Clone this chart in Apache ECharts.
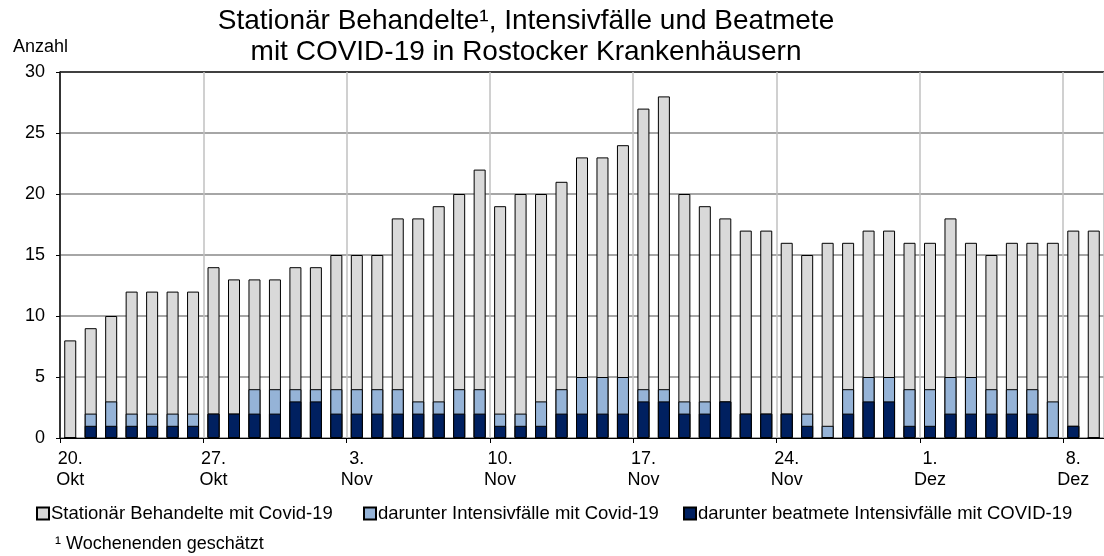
<!DOCTYPE html>
<html>
<head>
<meta charset="utf-8">
<script src="https://cdn.jsdelivr.net/npm/echarts@6/dist/echarts.min.js"></script>
<style>
  html, body { margin: 0; padding: 0; background: #fff; }
  #chart { width: 1104px; height: 556px; }
</style>
</head>
<body>
<div id="chart"></div>
<script>
// Tage 20. Okt bis 9. Dez
var tage = [
  '20.\nOkt', '21.\nOkt', '22.\nOkt', '23.\nOkt', '24.\nOkt', '25.\nOkt', '26.\nOkt',
  '27.\nOkt', '28.\nOkt', '29.\nOkt', '30.\nOkt', '31.\nOkt', '1.\nNov', '2.\nNov',
  '3.\nNov', '4.\nNov', '5.\nNov', '6.\nNov', '7.\nNov', '8.\nNov', '9.\nNov',
  '10.\nNov', '11.\nNov', '12.\nNov', '13.\nNov', '14.\nNov', '15.\nNov', '16.\nNov',
  '17.\nNov', '18.\nNov', '19.\nNov', '20.\nNov', '21.\nNov', '22.\nNov', '23.\nNov',
  '24.\nNov', '25.\nNov', '26.\nNov', '27.\nNov', '28.\nNov', '29.\nNov', '30.\nNov',
  '1.\nDez', '2.\nDez', '3.\nDez', '4.\nDez', '5.\nDez', '6.\nDez', '7.\nDez',
  '8.\nDez', '9.\nDez'
];

// Stationär Behandelte (gesamt)
var stationaer = [
  8, 9, 10, 12, 12, 12, 12,
  14, 13, 13, 13, 14, 14, 15,
  15, 15, 18, 18, 19, 20, 22,
  19, 20, 20, 21, 23, 23, 24,
  27, 28, 20, 19, 18, 17, 17,
  16, 15, 16, 16, 17, 17, 16,
  16, 18, 16, 15, 16, 16, 16,
  17, 17
];

// darunter Intensivfälle
var intensiv = [
  0, 2, 3, 2, 2, 2, 2,
  2, 2, 4, 4, 4, 4, 4,
  4, 4, 4, 3, 3, 4, 4,
  2, 2, 3, 4, 5, 5, 5,
  4, 4, 3, 3, 3, 2, 2,
  2, 2, 1, 4, 5, 5, 4,
  4, 5, 5, 4, 4, 4, 3,
  1, 0
];

// darunter beatmet
var beatmet = [
  0, 1, 1, 1, 1, 1, 1,
  2, 2, 2, 2, 3, 3, 2,
  2, 2, 2, 2, 2, 2, 2,
  1, 1, 1, 2, 2, 2, 2,
  3, 3, 2, 2, 3, 2, 2,
  2, 1, 0, 2, 3, 3, 1,
  1, 2, 2, 2, 2, 2, 0,
  1, 0
];

var namen = [
  'Stationär Behandelte mit Covid-19',
  'darunter Intensivfälle mit Covid-19',
  'darunter beatmete Intensivfälle mit COVID-19'
];

var schrift = "'Liberation Sans', Arial, sans-serif";

var chart = echarts.init(document.getElementById('chart'));

function legende(name, x) {
  return {
    data: [name],
    left: x,
    top: 504,
    padding: 0,
    itemWidth: 12,
    itemHeight: 12,
    icon: 'rect',
    selectedMode: false,
    textStyle: { fontFamily: schrift, fontSize: 18.5, color: '#000', padding: [0, 0, 0, -3] }
  };
}

chart.setOption({
  animation: false,
  textStyle: { fontFamily: schrift },
  title: {
    text: 'Stationär Behandelte¹, Intensivfälle und Beatmete\nmit COVID-19 in Rostocker Krankenhäusern',
    left: 526,
    top: 6,
    textAlign: 'center',
    padding: 0,
    textStyle: { fontFamily: schrift, fontSize: 28, fontWeight: 'normal', color: '#000', lineHeight: 31 }
  },
  legend: [
    legende(namen[0], 36),
    legende(namen[1], 363),
    legende(namen[2], 683)
  ],
  graphic: [
    {
      type: 'text', left: 13, top: 38,
      style: { text: 'Anzahl', font: '18px ' + schrift, fill: '#000' }
    },
    {
      type: 'text', left: 55, top: 535,
      style: { text: '¹ Wochenenden geschätzt', font: '18px ' + schrift, fill: '#000' }
    }
  ],
  grid: { left: 60, right: 0, top: 72, bottom: 118, containLabel: false },
  xAxis: {
    type: 'category',
    data: tage,
    boundaryGap: true,
    axisLine: { lineStyle: { color: '#000', width: 1 } },
    axisTick: { show: true, interval: 6, length: 5, lineStyle: { color: '#000' } },
    axisLabel: {
      interval: 6, margin: 10, color: '#000',
      fontFamily: schrift, fontSize: 18, lineHeight: 21.5
    },
    splitLine: { show: true, interval: 6, lineStyle: { color: '#c0c0c0', width: 1.5 } }
  },
  yAxis: {
    type: 'value',
    min: 0, max: 30, interval: 5,
    axisLine: { show: true, lineStyle: { color: '#000', width: 1.5 } },
    axisTick: { show: true, length: 4, lineStyle: { color: '#000' } },
    axisLabel: { margin: 15, color: '#000', fontFamily: schrift, fontSize: 18 },
    splitLine: {
      show: true,
      lineStyle: { color: ['#888', '#888', '#888', '#888', '#888', '#888', '#000'], width: 1.5 }
    }
  },
  series: [
    {
      name: namen[0], type: 'bar', data: stationaer,
      barWidth: 12, barGap: '-100%',
      itemStyle: { color: '#d9d9d9', borderColor: '#000', borderWidth: 1 }
    },
    {
      name: namen[1], type: 'bar', data: intensiv,
      barWidth: 12, barGap: '-100%',
      itemStyle: { color: '#95b3d7', borderColor: '#000', borderWidth: 1 }
    },
    {
      name: namen[2], type: 'bar', data: beatmet,
      barWidth: 12, barGap: '-100%',
      itemStyle: { color: '#002060', borderColor: '#000', borderWidth: 1 }
    }
  ]
});
</script>
</body>
</html>
